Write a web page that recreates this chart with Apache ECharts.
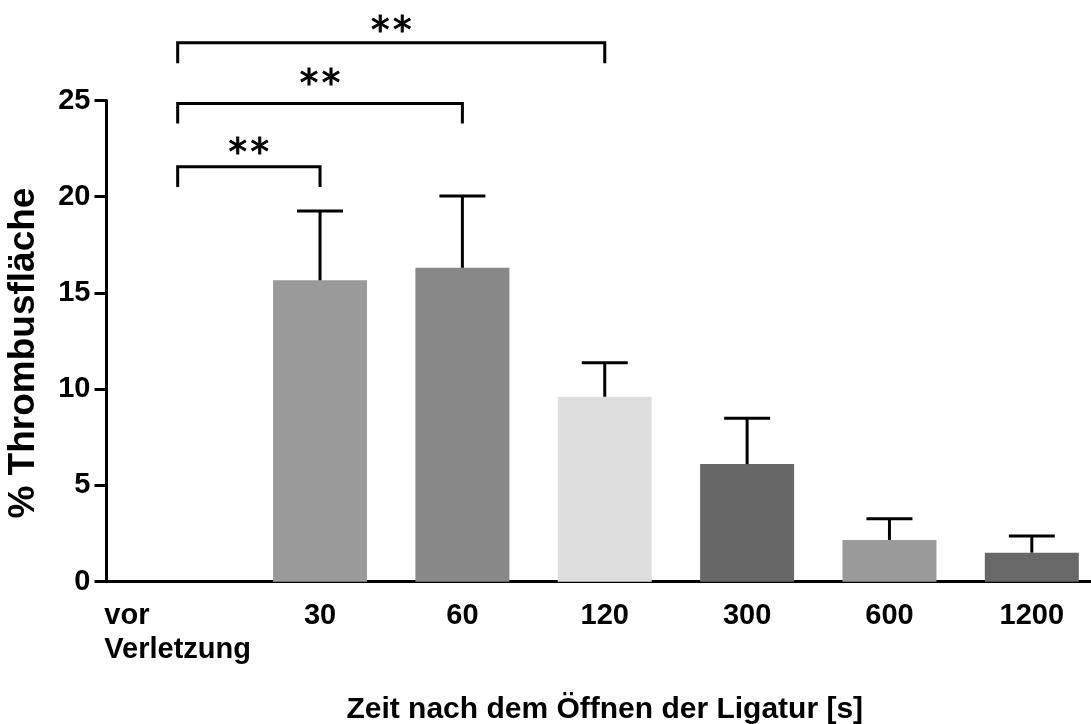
<!DOCTYPE html>
<html>
<head>
<meta charset="utf-8">
<script src="https://cdn.jsdelivr.net/npm/echarts@6/dist/echarts.min.js"></script>
<style>
html,body{margin:0;padding:0;background:#fff;}
#chart{width:1091px;height:724px;}
</style>
</head>
<body>
<div id="chart"></div>
<script>
// ---- data ----
var categories = ['vor Verletzung', '30', '60', '120', '300', '600', '1200'];
var means = [0, 15.66, 16.31, 9.61, 6.11, 2.17, 1.51];
var errors = [0, 3.60, 3.73, 1.77, 2.38, 1.10, 0.86];
var barColors = ['#999999', '#9a9a9a', '#888888', '#dedede', '#676767', '#9a9a9a', '#686868'];
var yTicks = [0, 5, 10, 15, 20, 25];
// significance brackets
var bracketFrom = [0, 0, 0];
var bracketTo = [1, 2, 3];
var bracketTop = [21.56, 24.85, 28.0];
var bracketLegEnd = [20.5, 23.81, 26.93];
var bracketLabelY = [22.6, 26.18, 28.97];
var bracketLabels = ['**', '**', '**'];

var FONT = 'Liberation Sans, Arial, sans-serif';

var errorData = means.map(function (m, i) { return [i, m, m + errors[i]]; })
  .filter(function (d) { return d[2] > d[1]; });
var bracketData = bracketFrom.map(function (f, i) {
  return [f, bracketTo[i], bracketTop[i], bracketLegEnd[i], bracketLabelY[i], bracketLabels[i]];
});

var chart = echarts.init(document.getElementById('chart'), null, {renderer: 'canvas'});
chart.setOption({
  animation: false,
  backgroundColor: '#ffffff',
  grid: {left: 106.5, right: -12, top: 100.5, bottom: 142.3, containLabel: false, outerBoundsMode: 'none'},
  xAxis: {
    type: 'category',
    data: categories,
    boundaryGap: true,
    name: 'Zeit nach dem Öffnen der Ligatur [s]',
    nameLocation: 'middle',
    nameGap: 113,
    nameTextStyle: {fontFamily: FONT, fontSize: 30, fontWeight: 'bold', color: '#000'},
    axisLine: {lineStyle: {color: '#000', width: 3}},
    axisTick: {alignWithLabel: true, length: 12, lineStyle: {color: '#000', width: 3}},
    axisLabel: {
      interval: 0,
      margin: 17,
      color: '#000',
      fontFamily: FONT,
      fontSize: 29,
      fontWeight: 'bold',
      lineHeight: 34,
      formatter: function (v, idx) {
        if (idx === 0) {
          var parts = v.split(' ');
          return '{l|' + parts[0] + '}\n{l|' + parts[1] + '}';
        }
        return v;
      },
      rich: {
        l: {align: 'left', fontFamily: FONT, fontSize: 29, fontWeight: 'bold', lineHeight: 34, color: '#000'}
      }
    },
    splitLine: {show: false}
  },
  yAxis: {
    type: 'value',
    min: yTicks[0],
    max: yTicks[yTicks.length - 1],
    interval: yTicks[1] - yTicks[0],
    name: '% Thrombusfläche',
    nameLocation: 'middle',
    nameGap: 64,
    nameTextStyle: {fontFamily: FONT, fontSize: 37, fontWeight: 'bold', color: '#000', padding: [0, 24, 0, 0]},
    axisLine: {show: true, lineStyle: {color: '#000', width: 3}},
    axisTick: {show: true, length: 12, lineStyle: {color: '#000', width: 3}},
    axisLabel: {margin: 16, color: '#000', fontFamily: FONT, fontSize: 29, fontWeight: 'bold'},
    splitLine: {show: false}
  },
  series: [
    {
      type: 'bar',
      barWidth: 94,
      data: means.map(function (m, i) { return {value: m, itemStyle: {color: barColors[i]}}; }),
      z: 2
    },
    {
      type: 'custom',
      data: errorData,
      z: 3,
      clip: false,
      renderItem: function (params, api) {
        var x = api.value(0);
        var p0 = api.coord([x, api.value(1)]);
        var p1 = api.coord([x, api.value(2)]);
        var half = 23;
        return {
          type: 'group',
          children: [
            {type: 'line', shape: {x1: p0[0], y1: p0[1], x2: p1[0], y2: p1[1]}, style: {stroke: '#000', lineWidth: 3}},
            {type: 'line', shape: {x1: p1[0] - half, y1: p1[1], x2: p1[0] + half, y2: p1[1]}, style: {stroke: '#000', lineWidth: 3}}
          ]
        };
      }
    },
    {
      type: 'custom',
      data: bracketData,
      z: 4,
      clip: false,
      renderItem: function (params, api) {
        var a = api.coord([api.value(0), api.value(2)]);
        var b = api.coord([api.value(1), api.value(2)]);
        var aEnd = api.coord([api.value(0), api.value(3)]);
        var t = api.coord([api.value(0), api.value(4)]);
        var chars = bracketLabels[params.dataIndex].split('');
        var cx = (a[0] + b[0]) / 2;
        var step = 22;
        var children = [
          {type: 'polyline', shape: {points: [[a[0], aEnd[1]], [a[0], a[1]], [b[0], b[1]], [b[0], aEnd[1]]]},
           style: {stroke: '#000', lineWidth: 3, fill: null}}
        ];
        chars.forEach(function (ch, k) {
          children.push({type: 'text', x: cx + (k - (chars.length - 1) / 2) * step, y: t[1] + 9,
            style: {text: ch, fill: '#000', font: '37px "DejaVu Sans"', align: 'center', verticalAlign: 'middle',
                    stroke: '#000', lineWidth: 1}});
        });
        return {type: 'group', children: children};
      }
    }
  ]
});
</script>
</body>
</html>
